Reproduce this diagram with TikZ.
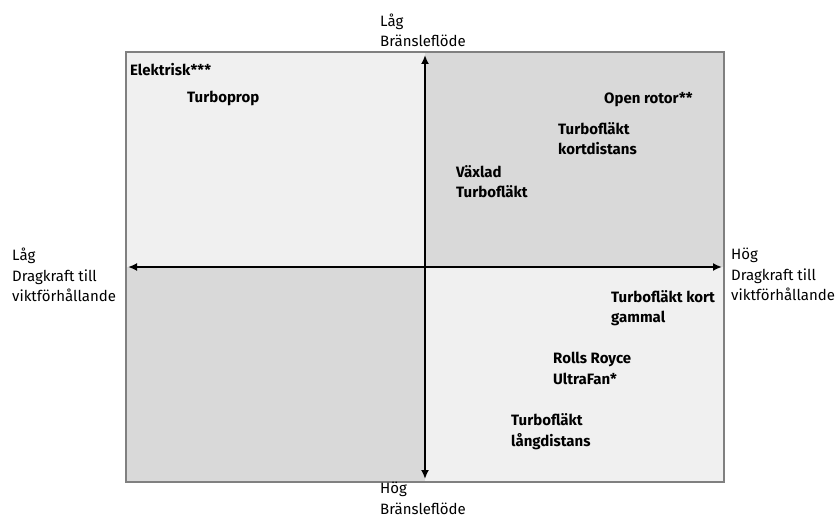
\documentclass[tikz,border=0pt]{standalone}
\usepackage{fontspec}
\setmainfont{Fira Sans}
\usetikzlibrary{arrows.meta}
\begin{document}
\begin{tikzpicture}[x=1pt,y=-1pt,
  light/.style={fill=black!6},
  dark/.style={fill=black!15},
  axis/.style={line width=1.9pt,-{Latex[length=9pt,width=8pt]},black},
  item/.style={anchor=base west,font=\fontsize{15}{20.7}\selectfont\bfseries,align=left,inner sep=0pt},
  caption/.style={anchor=base west,font=\fontsize{15}{20.5}\selectfont,align=left,inner sep=0pt}]
\useasboundingbox (0,0) rectangle (840,518);
% quadrants
\fill[light] (126,52) rectangle (425,267);
\fill[dark]  (425,52) rectangle (724,267);
\fill[dark]  (126,267) rectangle (425,482);
\fill[light] (425,267) rectangle (724,482);
\draw[black!50,line width=1.4pt] (126,52) rectangle (724,482);
% axes
\coordinate (c) at (425,267);
\coordinate (top) at (425,55);
\coordinate (bot) at (425,479);
\coordinate (lft) at (128,267);
\coordinate (rgt) at (722,267);
\draw[axis] (c) -- (top);
\draw[axis] (c) -- (bot);
\draw[axis] (c) -- (lft);
\draw[axis] (c) -- (rgt);
% axis captions (anchored at the baseline of the last line)
\node[caption] (lt) at (380,47) {Låg\\Bränsleflöde};
\node[caption] (lb) at (380,514) {Hög\\Bränsleflöde};
\node[caption] (ll) at (12,302) {Låg\\Dragkraft till\\viktförhållande};
\node[caption] (lr) at (731,301) {Hög\\Dragkraft till\\viktförhållande};
% engines
\node[item] (el) at (130,76) {Elektrisk***};
\node[item] (tp) at (187,103) {Turboprop};
\node[item] (or) at (604,104) {Open rotor**};
\node[item] (tk) at (558,155) {Turbofläkt\\kortdistans};
\node[item] (vt) at (456,198) {Växlad\\Turbofläkt};
\node[item] (tg) at (611,323) {Turbofläkt kort\\gammal};
\node[item] (rr) at (553,384) {Rolls Royce\\UltraFan*};
\node[item] (tl) at (511,446) {Turbofläkt\\långdistans};
\end{tikzpicture}
\end{document}
